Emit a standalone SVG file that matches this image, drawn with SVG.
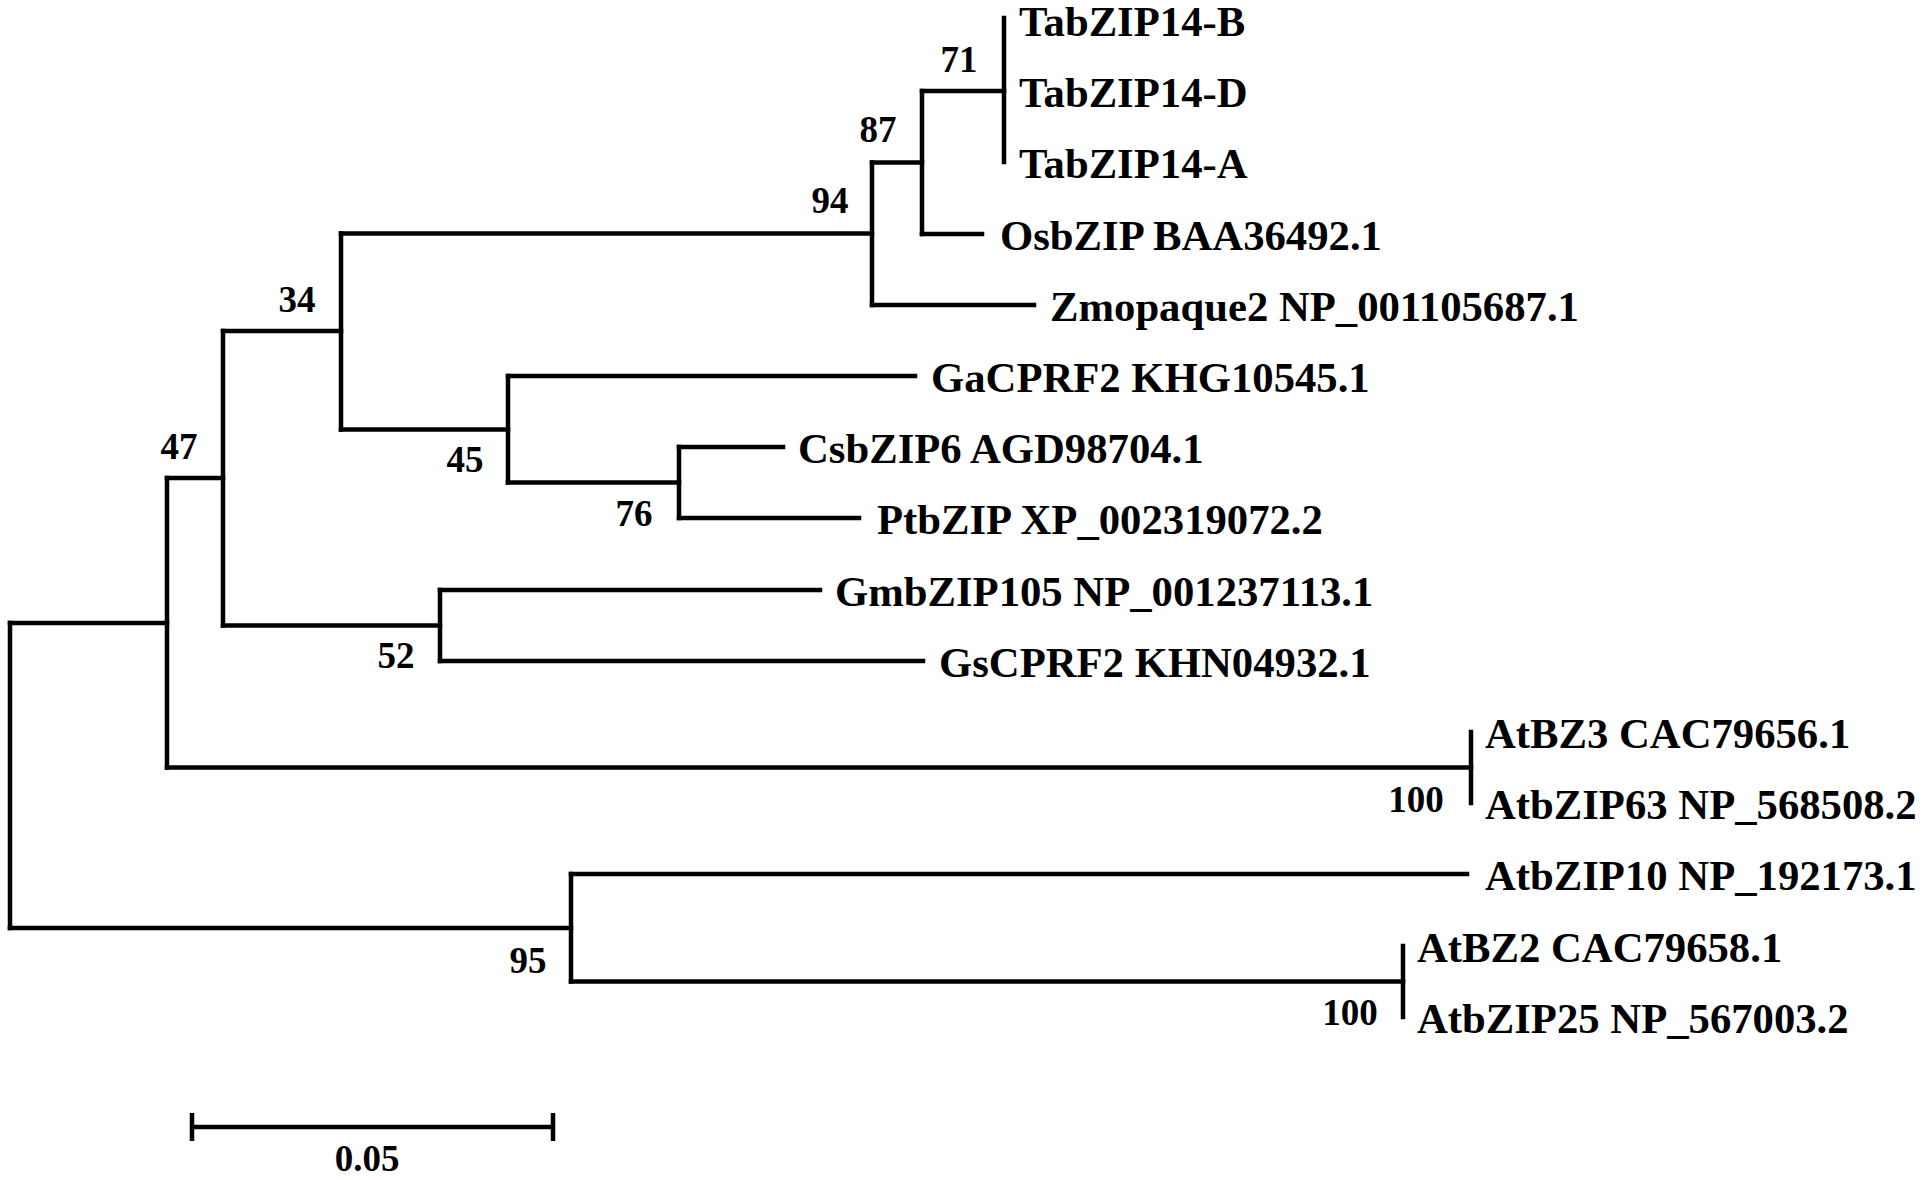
<svg xmlns="http://www.w3.org/2000/svg" width="1925" height="1180" viewBox="0 0 1925 1180">
<style>
.br{fill:none;stroke:#000;stroke-width:4.5;stroke-linecap:square;stroke-linejoin:miter}
.lf{font-family:"Liberation Serif","Times New Roman",serif;font-weight:bold;font-size:42.7px;fill:#000}
.bs{font-family:"Liberation Serif","Times New Roman",serif;font-weight:bold;font-size:37px;fill:#000;text-anchor:middle}
</style>
<rect width="1925" height="1180" fill="#fff"/>
<g id="connectors" class="br">
<path d="M10,623 V928"/>
<path d="M10,623 H167"/>
<path d="M10,928 H571"/>
<path d="M167,478 V767.5"/>
<path d="M167,478 H223"/>
<path d="M167,767.5 H1471"/>
<path d="M223,331 V625.5"/>
<path d="M223,331 H341"/>
<path d="M223,625.5 H440"/>
<path d="M341,233.5 V429.5"/>
<path d="M341,233.5 H872"/>
<path d="M341,429.5 H508"/>
<path d="M872,162.5 V305"/>
<path d="M872,162.5 H922"/>
<path d="M872,305 H1034"/>
<path d="M922,91 V234"/>
<path d="M922,91 H1004"/>
<path d="M922,234 H982"/>
<path d="M1004,18 V162"/>
<path d="M508,376 V482.5"/>
<path d="M508,376 H915"/>
<path d="M508,482.5 H679"/>
<path d="M679,447 V518"/>
<path d="M679,447 H783"/>
<path d="M679,518 H859"/>
<path d="M440,590 V661"/>
<path d="M440,590 H820"/>
<path d="M440,661 H923"/>
<path d="M1471,732 V803"/>
<path d="M571,874 V981.5"/>
<path d="M571,874 H1467"/>
<path d="M571,981.5 H1403"/>
<path d="M1403,946 V1017"/>
</g>
<g id="leaf-TabZIP14-B"><text class="lf" x="1019" y="36">TabZIP14-B</text></g>
<g id="leaf-TabZIP14-D"><text class="lf" x="1019" y="107">TabZIP14-D</text></g>
<g id="leaf-TabZIP14-A"><text class="lf" x="1019" y="178">TabZIP14-A</text></g>
<g id="leaf-OsbZIP"><text class="lf" x="1000" y="250">OsbZIP BAA36492.1</text></g>
<g id="leaf-Zmopaque2"><text class="lf" x="1050" y="321">Zmopaque2 NP_001105687.1</text></g>
<g id="leaf-GaCPRF2"><text class="lf" x="931" y="392">GaCPRF2 KHG10545.1</text></g>
<g id="leaf-CsbZIP6"><text class="lf" x="798" y="463">CsbZIP6 AGD98704.1</text></g>
<g id="leaf-PtbZIP"><text class="lf" x="877" y="534">PtbZIP XP_002319072.2</text></g>
<g id="leaf-GmbZIP105"><text class="lf" x="835" y="606">GmbZIP105 NP_001237113.1</text></g>
<g id="leaf-GsCPRF2"><text class="lf" x="939" y="677">GsCPRF2 KHN04932.1</text></g>
<g id="leaf-AtBZ3"><text class="lf" x="1485" y="748">AtBZ3 CAC79656.1</text></g>
<g id="leaf-AtbZIP63"><text class="lf" x="1485" y="819">AtbZIP63 NP_568508.2</text></g>
<g id="leaf-AtbZIP10"><text class="lf" x="1485" y="890">AtbZIP10 NP_192173.1</text></g>
<g id="leaf-AtBZ2"><text class="lf" x="1417" y="962">AtBZ2 CAC79658.1</text></g>
<g id="leaf-AtbZIP25"><text class="lf" x="1417" y="1033">AtbZIP25 NP_567003.2</text></g>
<g id="node-71"><text class="bs" x="959" y="72">71</text></g>
<g id="node-87"><text class="bs" x="878" y="142">87</text></g>
<g id="node-94"><text class="bs" x="830" y="213">94</text></g>
<g id="node-34"><text class="bs" x="297" y="312">34</text></g>
<g id="node-47"><text class="bs" x="179" y="459">47</text></g>
<g id="node-45"><text class="bs" x="465" y="472">45</text></g>
<g id="node-76"><text class="bs" x="634" y="526">76</text></g>
<g id="node-52"><text class="bs" x="396" y="668">52</text></g>
<g id="node-100a"><text class="bs" x="1416" y="812">100</text></g>
<g id="node-95"><text class="bs" x="528" y="973">95</text></g>
<g id="node-100b"><text class="bs" x="1350" y="1025">100</text></g>
<g id="scale-bar">
<path class="br" d="M192,1127 H553 M192,1113 V1141 M553,1113 V1141" style="stroke-linecap:butt"/>
<text class="bs" x="367" y="1171">0.05</text>
</g>
</svg>
